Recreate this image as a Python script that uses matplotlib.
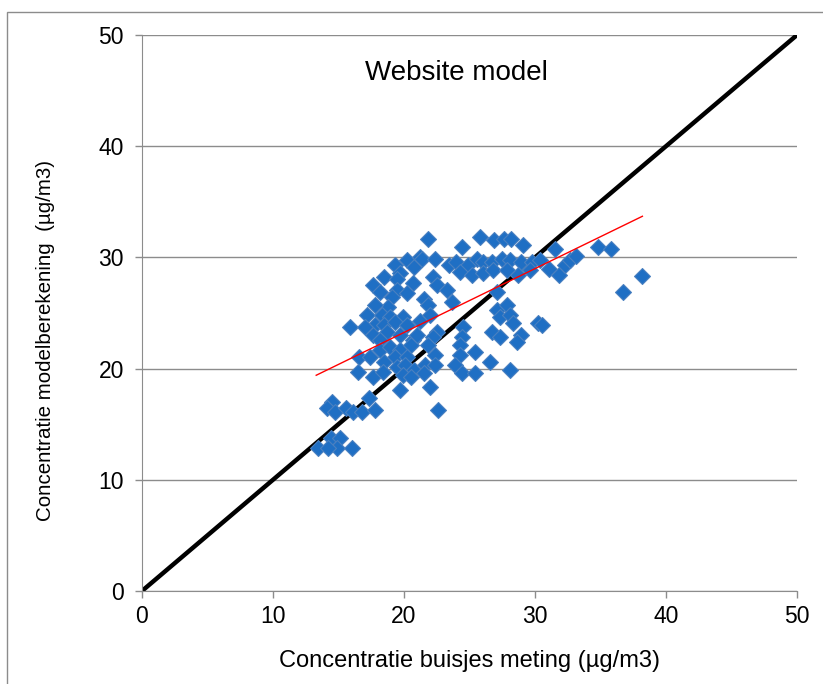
import matplotlib
matplotlib.use("Agg")
import matplotlib.pyplot as plt
from matplotlib.patches import Rectangle

# meting (x) vs modelberekening (y)
meting = [
    19.3, 20.2, 20.8, 21.2, 19.7, 18.5, 19.5, 20.7, 17.6, 18.2,
    19.5, 20.2, 19.1, 18.8, 17.8, 17.2, 18.3, 18.9, 19.9, 17.8,
    18.5, 19.3, 20.2, 15.9, 17.0, 17.6, 18.7, 19.7, 18.2, 20.7,
    21.8, 25.8, 26.9, 27.6, 28.2, 29.1, 24.4, 21.4, 22.4, 23.4,
    24.0, 24.9, 25.6, 26.0, 26.7, 27.5, 28.1, 28.9, 29.8, 24.3,
    25.2, 26.0, 26.8, 27.9, 28.7, 29.6, 22.2, 22.5, 27.1, 21.5,
    21.8, 23.7, 27.1, 27.9, 27.3, 28.1, 28.3, 30.2, 22.5, 22.2,
    24.5, 24.4, 26.7, 27.3, 28.9,
    31.5, 34.8, 35.8, 30.4, 31.1, 31.8, 32.3, 32.7, 33.1, 38.2,
    36.7, 30.5,
    16.6, 17.4, 18.2, 18.9, 19.7, 20.5, 19.3, 20.2, 18.5, 16.5,
    17.6, 18.4, 19.5, 20.1, 20.8, 19.9, 20.5, 19.7, 17.3, 14.5,
    14.1, 14.7, 15.6, 16.1, 16.8, 17.8, 14.4, 15.1, 14.9, 13.4,
    14.2, 16.0,
    21.8, 22.4, 24.3, 24.3, 25.4, 28.6, 21.6, 22.4, 23.9, 24.4,
    25.4, 26.6, 28.1, 21.5, 22.0, 22.6,
    21.2, 21.0, 22.0, 23.3,
]
model = [
    29.3, 29.8, 29.1, 30.0, 28.6, 28.2, 28.1, 27.7, 27.5, 26.9,
    27.1, 26.8, 26.4, 25.5, 25.7, 24.8, 24.8, 24.6, 24.6, 23.9,
    23.9, 24.2, 23.9, 23.7, 23.7, 23.0, 23.3, 23.0, 22.6, 22.6,
    31.7, 31.8, 31.6, 31.7, 31.7, 31.1, 30.9, 29.9, 29.9, 29.3,
    29.6, 29.3, 29.9, 29.6, 29.6, 29.9, 29.8, 29.6, 29.6, 28.7,
    28.4, 28.6, 28.9, 28.9, 28.4, 28.9, 28.2, 27.5, 26.9, 26.3,
    25.7, 26.0, 25.3, 25.7, 24.6, 24.8, 24.1, 24.1, 23.3, 22.8,
    23.7, 22.8, 23.3, 22.8, 23.0,
    30.8, 30.9, 30.8, 29.8, 29.0, 28.4, 29.3, 29.8, 30.1, 28.3,
    26.9, 23.9,
    21.0, 21.0, 21.7, 21.9, 21.7, 22.1, 21.0, 21.0, 20.6, 19.7,
    19.2, 19.7, 20.1, 20.3, 19.9, 19.4, 19.2, 18.1, 17.4, 17.0,
    16.5, 16.1, 16.5, 16.1, 16.1, 16.3, 13.8, 13.8, 12.9, 12.9,
    12.9, 12.9,
    22.1, 21.2, 22.1, 21.2, 21.5, 22.4, 20.3, 20.3, 20.3, 19.6,
    19.6, 20.6, 19.9, 19.6, 18.3, 16.3,
    24.3, 23.0, 24.8, 27.1,
]

# trendlijn (rood) en 1:1 lijn
trend_x = [13.3, 38.2]
trend_y = [19.4, 33.7]
diag = [0, 50]

ticks = [0, 10, 20, 30, 40, 50]

plt.rcParams["font.family"] = ["Liberation Sans", "DejaVu Sans"]

fig = plt.figure(figsize=(8.23, 6.84), dpi=100)
ax = fig.add_axes([0.1725, 0.136, 0.7959, 0.8128])

# rand om het hele diagram
fig.patches.append(Rectangle((0.009, -0.05), 1.1, 1.032, transform=fig.transFigure,
                             fill=False, edgecolor="#8c8c8c", linewidth=1.0))

ax.set_xlim(0, 50)
ax.set_ylim(0, 50)
ax.set_xticks(ticks)
ax.set_yticks(ticks)
ax.yaxis.grid(True, color="#8c8c8c", linewidth=1.0)
ax.set_axisbelow(True)
for side in ["top", "right"]:
    ax.spines[side].set_visible(False)
for side in ["left", "bottom"]:
    ax.spines[side].set_color("#8c8c8c")
ax.tick_params(axis="both", direction="out", length=5, color="#8c8c8c",
               labelsize=16.5, width=1.0)
ax.tick_params(axis="x", pad=5)
ax.tick_params(axis="y", pad=8)

ax.plot(diag, diag, color="black", linewidth=3.2, zorder=2)
ax.scatter(meting, model, marker="D", s=66, facecolor="#1f6fc4",
           edgecolor="#4a80c0", linewidth=0.8, zorder=3)
ax.plot(trend_x, trend_y, color="red", linewidth=1.0, zorder=4)

ax.text(24.0, 46.6, "Website model", ha="center", va="center", fontsize=20)
ax.set_xlabel("Concentratie buisjes meting (µg/m3)", fontsize=17)
ax.set_ylabel("Concentratie modelberekening  (µg/m3)", fontsize=14.8)
ax.xaxis.label.set_va("center")
ax.xaxis.set_label_coords(0.5, -0.126)
ax.yaxis.label.set_va("center")
ax.yaxis.set_label_coords(-0.148, 0.451)

fig.savefig("out.png", dpi=100)
